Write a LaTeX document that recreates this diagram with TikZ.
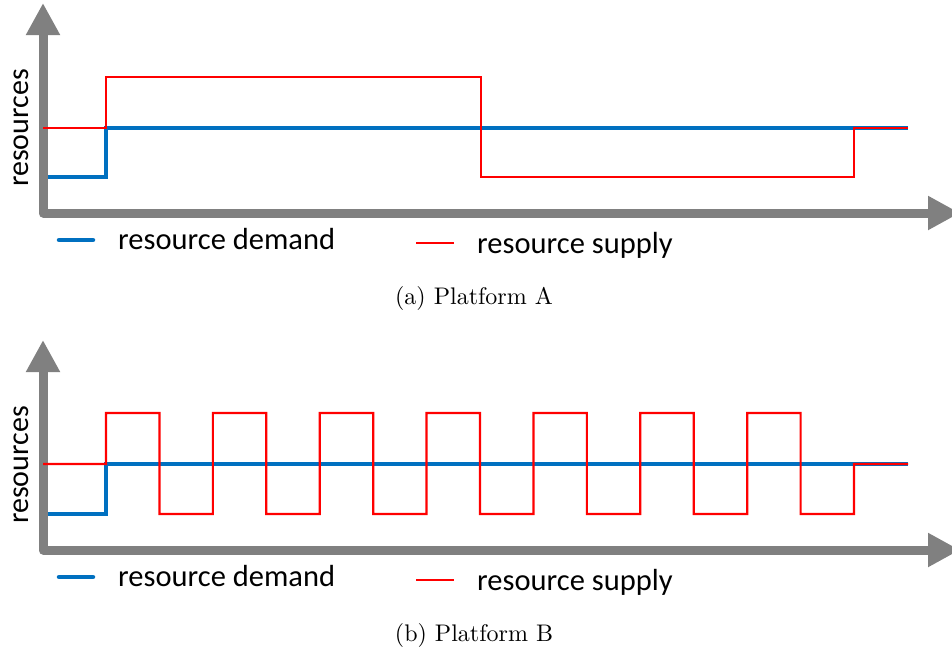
\documentclass[tikz,border=0pt]{standalone}
\usepackage{fontspec}
\newfontfamily\calfont{Carlito}
\usetikzlibrary{arrows.meta}
\definecolor{axisgray}{RGB}{128,128,128}
\definecolor{demandblue}{RGB}{0,112,192}
\newcommand{\platformframe}[2]{%
    \draw[axis] (43,3) |- (960,213);
    \node[ylbl, rotate=90] (ylbl-#1) at (21,128) {resources};
    \node[legtxt] (dtxt-#1) at (118,249) {resource demand};
    \node[legtxt] (stxt-#1) at (477,253) {resource supply};
    \draw[demand, line cap=round]([shift={(-59pt,9pt)}]dtxt-#1.base west)--([shift={(-25pt,9pt)}]dtxt-#1.base west);
    \draw[supply]([shift={(-61pt,10pt)}]stxt-#1.base west)--([shift={(-23pt,10pt)}]stxt-#1.base west);
    \node[capt] (cap-#1) at (474,304) {#2};
}

\begin{document}
\begin{tikzpicture}[x=1pt, y=-1pt,
    axis/.style={draw=axisgray, line width=9pt, line join=round,
        {Triangle[width=32pt,length=32pt]}-{Triangle[width=32pt,length=32pt]}},
    demand/.style={draw=demandblue, line width=4.5pt},
    supply/.style={draw=red, line width=2.2pt},
    ylbl/.style={inner sep=0, font=\calfont\fontsize{30}{36}\selectfont},
    legtxt/.style={inner sep=0, anchor=base west, font=\calfont\fontsize{30.5}{36}\selectfont},
    capt/.style={inner sep=0, anchor=base, scale=2.4}]
    \useasboundingbox (0,0) rectangle (952,651);
    % (a) one long over-supply, then under-supply
    \begin{scope}
        \platformframe{a}{(a) Platform A}
        \draw[demand] (48,177) -| (106,128) -- (908,128);
        \draw[supply] (43,128) -| (106,77) -| (481,177) -| (854,128) -- (908,128);
    \end{scope}
    % (b) supply switching up and down
    \begin{scope}[shift={(0,337)}]
        \platformframe{b}{(b) Platform B}
        \draw[demand] (48,177) -| (106,127) -- (908,127);
        \draw[supply] (43,127) -- (106,127)
            \foreach \k in {0,...,6}{
                -- ({106+106.86*\k},76) -- ({159.43+106.86*\k},76)
                -- ({159.43+106.86*\k},177) -- ({212.86+106.86*\k},177)}
            -- (854,127) -- (908,127);
    \end{scope}
\end{tikzpicture}
\end{document}
